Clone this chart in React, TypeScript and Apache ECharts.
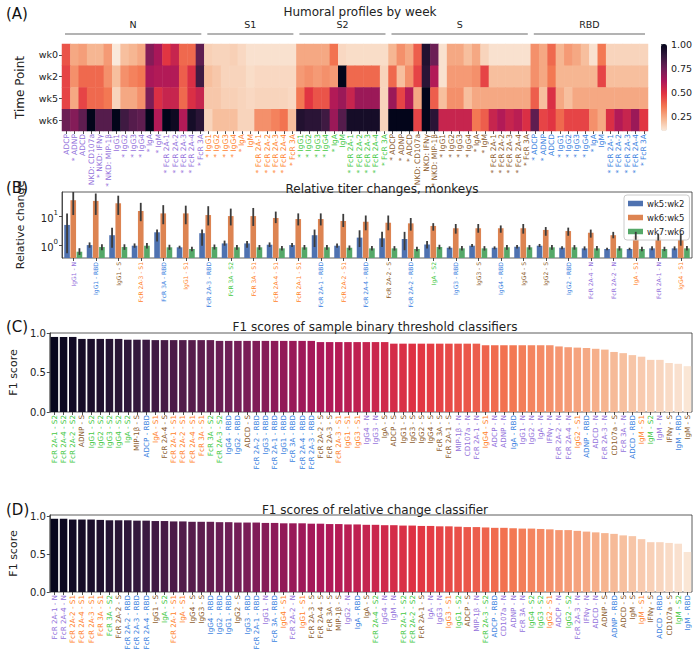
import React, { useEffect, useRef } from "react";
import * as echarts from "echarts";

const FONT = "DejaVu Sans";
const GROUP_COLORS: Record<string, string> = { N: "#9370db", S1: "#ff7f2a", S2: "#45c845", S: "#8b5a2b", RBD: "#3b7fe0" };
const ROCKET = ["#03051a", "#35193e", "#701f57", "#ad1759", "#e13342", "#f37651", "#f6b48f", "#faebdd"];

// ---------- Panel A ----------
const groupNames = ["N", "S1", "S2", "S", "RBD"];
const timePoints = ["wk0", "wk2", "wk5", "wk6"];
const featN = ["ADCP", "* ADNP", "ADCD", "NKD: CD107a", "* NKD: IFNγ", "* NKD: MIP-1β", "IgG1", "* IgG2", "* IgG3", "* IgG4", "* IgA", "* IgM", "* FcR 2A-1", "* FcR 2A-2", "* FcR 2A-3", "* FcR 2A-4", "* FcR 3A"];
const featS1 = ["* IgG1", "* IgG2", "* IgG3", "* IgG4", "* IgA", "IgM", "* FcR 2A-1", "* FcR 2A-2", "* FcR 2A-3", "* FcR 2A-4", "* FcR 3A"];
const featS2 = ["* IgG1", "* IgG2", "* IgG3", "* IgG4", "* IgA", "IgM", "* FcR 2A-1", "* FcR 2A-2", "* FcR 2A-3", "* FcR 2A-4", "* FcR 3A"];
const featS = ["* ADCP", "* ADNP", "* ADCD", "NKD: CD107a", "NKD: IFNγ", "* NKD: MIP-1β", "* IgG1", "* IgG2", "* IgG3", "* IgG4", "* IgA", "* IgM", "* FcR 2A-1", "* FcR 2A-2", "* FcR 2A-3", "* FcR 2A-4", "* FcR 3A"];
const featRBD = ["* ADCP", "* ADNP", "ADCD", "* IgG1", "* IgG2", "* IgG3", "* IgG4", "* IgA", "IgM", "* FcR 2A-1", "* FcR 2A-2", "* FcR 2A-3", "* FcR 2A-4", "* FcR 3A"];
const featGroups = [featN, featS1, featS2, featS, featRBD];

const wk0Values = [
  0.42, 0.25, 0.27, 0.22, 0.22, 0.28, 0.1, 0.2, 0.22, 0.25, 0.7, 0.62, 0.48, 0.55, 0.38, 0.38, 0.78,
  0.16, 0.15, 0.15, 0.16, 0.14, 0.12, 0.12, 0.12, 0.12, 0.12, 0.12,
  0.25, 0.25, 0.25, 0.25, 0.36, 0.14, 0.13, 0.13, 0.13, 0.13, 0.13,
  0.22, 0.3, 0.25, 0.4, 0.92, 0.75, 0.12, 0.25, 0.25, 0.2, 0.25, 0.15, 0.12, 0.12, 0.12, 0.12, 0.12,
  0.3, 0.25, 0.38, 0.22, 0.28, 0.25, 0.2, 0.12, 0.35, 0.15, 0.15, 0.15, 0.15, 0.15,
];
const wk2Values = [
  0.45, 0.3, 0.38, 0.38, 0.38, 0.3, 0.2, 0.3, 0.33, 0.35, 0.62, 0.6, 0.6, 0.6, 0.4, 0.5, 0.85,
  0.2, 0.18, 0.15, 0.15, 0.15, 0.13, 0.14, 0.14, 0.14, 0.14, 0.14,
  0.28, 0.3, 0.28, 0.3, 0.28, 1.0, 0.38, 0.38, 0.38, 0.38, 0.15,
  0.38, 0.2, 0.3, 0.45, 0.9, 0.6, 0.12, 0.28, 0.28, 0.28, 0.3, 0.45, 0.2, 0.2, 0.2, 0.2, 0.2,
  0.3, 0.25, 0.35, 0.22, 0.22, 0.22, 0.22, 0.22, 0.45, 0.2, 0.2, 0.2, 0.2, 0.2,
];
const wk5Values = [
  0.45, 0.25, 0.45, 0.38, 0.38, 0.35, 0.15, 0.25, 0.25, 0.3, 0.72, 0.5, 0.55, 0.55, 0.38, 0.5, 0.55,
  0.18, 0.18, 0.16, 0.16, 0.15, 0.14, 0.15, 0.15, 0.15, 0.15, 0.14,
  0.35, 0.48, 0.42, 0.42, 0.6, 0.65, 0.55, 0.65, 0.65, 0.65, 0.15,
  0.65, 0.45, 0.6, 0.25, 1.0, 0.4, 0.2, 0.3, 0.3, 0.2, 0.25, 0.25, 0.25, 0.25, 0.25, 0.25, 0.25,
  0.4, 0.2, 0.5, 0.25, 0.2, 0.25, 0.25, 0.25, 0.25, 0.25, 0.25, 0.25, 0.25, 0.25,
];
const wk6Values = [
  0.75, 0.7, 0.78, 1.0, 0.8, 0.8, 1.0, 0.85, 0.8, 0.78, 1.0, 0.6, 1.0, 0.97, 0.6, 0.95, 0.9,
  0.15, 0.2, 0.2, 0.2, 0.15, 0.15, 0.3, 0.3, 0.33, 0.36, 0.2,
  0.92, 0.9, 0.9, 0.85, 0.65, 0.8, 0.95, 0.95, 0.95, 0.95, 0.15,
  1.0, 1.0, 1.0, 0.45, 1.0, 0.9, 0.55, 0.55, 0.55, 0.55, 0.35, 0.4, 0.55, 0.6, 0.55, 0.58, 0.5,
  0.78, 0.45, 0.48, 0.38, 0.45, 0.45, 0.45, 0.3, 0.25, 0.5, 0.6, 0.55, 0.65, 0.48,
];
const colorbarTicks = [0.25, 0.5, 0.75, 1.0];

// ---------- Panel B ----------
const bCategories = ["IgG1 - N", "IgG1 - RBD", "IgG1 - S", "FcR 2A-3 - S1", "FcR 3A - RBD", "IgG1 - S1", "FcR 2A-3 - RBD", "FcR 3A - S2", "FcR 3A - S1", "FcR 2A-4 - S1", "FcR 2A-1 - S1", "FcR 2A-1 - RBD", "FcR 2A-2 - S1", "FcR 2A-4 - RBD", "FcR 2A-2 - S", "FcR 2A-2 - RBD", "IgA - S2", "IgG3 - RBD", "IgG3 - S", "IgG4 - RBD", "IgG4 - S", "IgG2 - S", "IgG2 - RBD", "FcR 2A-4 - N", "FcR 2A-2 - N", "IgA - S1", "FcR 2A-1 - N", "IgG4 - S1"];
const bSeriesNames = ["wk5:wk2", "wk6:wk5", "wk7:wk6"];
const bWk5Wk2 = [5.2, 1.05, 2.3, 1.0, 2.9, 0.88, 2.7, 1.2, 1.2, 1.08, 1.05, 2.3, 1.0, 1.9, 1.8, 1.7, 1.1, 0.85, 1.0, 0.85, 0.92, 1.0, 0.85, 0.81, 0.77, 0.77, 0.81, 0.81];
const bWk5Wk2Low = [0.55, 0.85, 0.85, 0.85, 1.4, 0.8, 1.0, 1.0, 0.85, 0.9, 0.9, 0.9, 0.85, 0.9, 0.9, 0.7, 0.8, 0.75, 0.9, 0.75, 0.8, 0.9, 0.75, 0.7, 0.7, 0.7, 0.7, 0.7];
const bWk5Wk2High = [13, 1.3, 4.2, 1.2, 3.6, 1.0, 3.6, 1.5, 1.45, 1.3, 1.25, 3.6, 1.2, 3.4, 3.0, 3.0, 1.45, 0.95, 1.15, 0.95, 1.05, 1.15, 0.95, 0.95, 0.85, 0.85, 0.95, 0.95];
const bWk6Wk5 = [37, 35, 29, 15.7, 13, 13, 11.4, 10.5, 10.5, 9, 8.3, 8.3, 7.1, 6.7, 6.2, 5.9, 4.8, 4.0, 4.0, 4.0, 4.0, 3.5, 3.2, 2.8, 2.3, 2.15, 1.94, 1.57];
const bWk6Wk5Low = [11.4, 11.5, 11.5, 7, 5.5, 5.5, 5, 5, 4.8, 6, 5, 5, 4.4, 3.4, 3.4, 3.3, 3.3, 2.6, 2.8, 2.8, 2.6, 2.2, 2.2, 1.9, 1.8, 1.6, 1.5, 1.0];
const bWk6Wk5High = [75, 63, 53, 30, 25, 24, 23, 19, 20, 15, 13, 13, 12.5, 11, 11, 9, 6, 5.6, 5.6, 5, 5.6, 4.4, 4.2, 3.6, 3.0, 3.0, 2.6, 2.6];
const bWk7Wk6 = [0.62, 0.9, 0.9, 1.0, 0.88, 0.77, 0.9, 0.88, 0.88, 0.81, 0.88, 0.88, 0.85, 0.81, 0.81, 0.77, 0.9, 0.81, 0.81, 0.88, 0.88, 0.88, 0.88, 0.81, 0.81, 0.77, 0.77, 0.81];
const bWk7Wk6Low = [0.48, 0.7, 0.72, 0.8, 0.72, 0.65, 0.74, 0.73, 0.72, 0.68, 0.73, 0.73, 0.7, 0.68, 0.68, 0.65, 0.75, 0.68, 0.68, 0.73, 0.73, 0.73, 0.73, 0.68, 0.68, 0.65, 0.65, 0.68];
const bWk7Wk6High = [0.82, 1.12, 1.12, 1.25, 1.08, 0.92, 1.1, 1.06, 1.06, 0.97, 1.06, 1.06, 1.02, 0.97, 0.97, 0.92, 1.08, 0.97, 0.97, 1.05, 1.05, 1.05, 1.05, 0.97, 0.97, 0.92, 0.92, 0.97];
const bTickValues = [1, 10];

// ---------- Panel C ----------
const cCategories = ["FcR 2A-1 - S2", "FcR 2A-4 - S2", "FcR 2A-2 - S2", "ADNP - S", "IgG1 - S2", "IgG2 - S2", "IgG3 - S2", "IgG4 - S2", "IgA - S2", "MIP-1β - S", "ADCP - RBD", "IgA - S1", "FcR 2A-4 - S", "FcR 2A-1 - S1", "FcR 2A-2 - S1", "FcR 2A-4 - S1", "FcR 3A - S1", "FcR 3A - S2", "FcR 2A-3 - S2", "IgG4 - RBD", "IgG2 - RBD", "ADCD - S", "FcR 2A-2 - RBD", "IgG3 - RBD", "FcR 2A-1 - RBD", "IgG1 - RBD", "FcR 3A - RBD", "FcR 2A-4 - RBD", "FcR 2A-3 - RBD", "FcR 2A-2 - S", "FcR 2A-3 - S", "FcR 2A-3 - S1", "IgG1 - S1", "IgG3 - S1", "IgG4 - N", "IgG3 - N", "IgA - S", "ADCP - S", "IgG1 - S", "IgG3 - S", "IgG2 - S", "IgG4 - S", "FcR 3A - S", "FcR 2A-1 - S", "MIP-1β - N", "CD107a - N", "FcR 2A-1 - N", "IgG4 - S1", "ADCP - N", "ADNP - N", "IgA - RBD", "IgG1 - N", "IgG2 - N", "IgA - N", "IFNγ - N", "FcR 2A-2 - N", "FcR 2A-4 - N", "IgG2 - S1", "ADNP - RBD", "ADCD - N", "FcR 2A-3 - N", "CD107a - S", "FcR 3A - N", "ADCD - RBD", "IgM - S1", "IgM - S2", "IgM - N", "IFNγ - S", "IgM - RBD", "IgM - S"];
const cValues = [
  0.95, 0.95, 0.95,
  0.925, 0.925, 0.925, 0.925, 0.925,
  0.915, 0.915, 0.915,
  0.91, 0.91, 0.91, 0.91, 0.91, 0.91, 0.91,
  0.9, 0.9, 0.9, 0.9, 0.9, 0.9, 0.9, 0.9, 0.9, 0.9, 0.9,
  0.885, 0.885, 0.885, 0.885, 0.885, 0.885, 0.885, 0.885,
  0.865, 0.865, 0.865, 0.865, 0.865, 0.865, 0.865, 0.865, 0.865, 0.865,
  0.845, 0.845, 0.845, 0.845, 0.845, 0.845, 0.845, 0.845,
  0.83, 0.82, 0.815, 0.81, 0.8, 0.79,
  0.76, 0.745, 0.72, 0.7, 0.66, 0.66, 0.62, 0.61, 0.58,
];

// ---------- Panel D ----------
const dCategories = ["FcR 2A-1 - N", "FcR 2A-4 - N", "FcR 2A-2 - S1", "FcR 2A-4 - S1", "FcR 2A-3 - S1", "FcR 3A - S1", "FcR 3A - S2", "FcR 2A-2 - S", "FcR 2A-2 - RBD", "FcR 2A-3 - RBD", "FcR 2A-4 - RBD", "IgG1 - S", "IgA - S2", "FcR 2A-1 - S1", "IgA - S1", "IgG4 - S", "IgG3 - S", "IgG4 - RBD", "IgG2 - RBD", "IgG1 - RBD", "IgG2 - S", "IgG3 - RBD", "FcR 2A-1 - RBD", "IgG1 - N", "FcR 3A - RBD", "IgG4 - S1", "FcR 2A-2 - N", "IgG1 - S1", "FcR 2A-3 - S", "FcR 2A-4 - S", "FcR 3A - S", "MIP-1β - S", "IgG2 - N", "IgA - RBD", "IgA - S", "FcR 2A-4 - S2", "IgG4 - N", "IgM - N", "FcR 2A-1 - S2", "FcR 2A-2 - S2", "FcR 2A-1 - S", "IgA - N", "IgG3 - N", "IgG3 - S1", "IgG1 - S2", "ADCP - S", "MIP-1β - N", "FcR 2A-3 - S2", "ADCP - RBD", "CD107a - N", "ADNP - N", "FcR 3A - N", "IgG4 - S2", "IgG3 - S2", "IgG2 - S1", "ADCP - N", "IgG2 - S2", "FcR 2A-3 - N", "IFNγ - N", "ADCD - N", "ADNP - S", "ADNP - RBD", "ADCD - S", "IgM - S", "IgM - S1", "IFNγ - S", "ADCD - RBD", "CD107a - S", "IgM - S2", "IgM - RBD"];
const dValues = [
  0.97, 0.97, 0.96, 0.96, 0.96, 0.955, 0.95, 0.95, 0.95, 0.945,
  0.945, 0.94, 0.94, 0.935, 0.935, 0.93, 0.93, 0.93, 0.925, 0.925,
  0.92, 0.92, 0.92, 0.915, 0.915, 0.91, 0.91, 0.91, 0.905, 0.905,
  0.9, 0.9, 0.895, 0.895, 0.89, 0.89, 0.885, 0.885, 0.88, 0.88,
  0.875, 0.875, 0.87, 0.87, 0.865, 0.86, 0.86, 0.855, 0.85, 0.85,
  0.845, 0.84, 0.84, 0.835, 0.83, 0.82, 0.82, 0.81, 0.8, 0.79,
  0.78, 0.77, 0.75, 0.74, 0.7, 0.66, 0.66, 0.65, 0.64, 0.53,
];
const f1TickValues = [0, 0.5, 1.0];

const groupOf = (label: string) => label.split(" - ").pop() as string;
const labelColor = (labels: string[]) => (_v: any, i: number) => GROUP_COLORS[groupOf(labels[i])];

function buildOption() {
  const heatLabels: string[] = [];
  const heatColors: string[] = [];
  featGroups.forEach((g, gi) => g.forEach((f) => { heatLabels.push(f); heatColors.push(GROUP_COLORS[groupNames[gi]]); }));
  const rows = [wk0Values, wk2Values, wk5Values, wk6Values];
  const heatData: number[][] = [];
  rows.forEach((r, ri) => r.forEach((v, ci) => heatData.push([ci, ri, v])));

  const bVals = [bWk5Wk2, bWk6Wk5, bWk7Wk6];
  const bLow = [bWk5Wk2Low, bWk6Wk5Low, bWk7Wk6Low];
  const bHigh = [bWk5Wk2High, bWk6Wk5High, bWk7Wk6High];
  const bColors = ["#4f72b0", "#dd8452", "#55a868"];

  const axisText = { fontFamily: FONT, color: "#222" };
  const tickLine = { lineStyle: { color: "#222", width: 0.8 } };

  const titles = [
    { text: "(A)", left: 1, top: 1, textStyle: { fontSize: 15, fontWeight: "normal", fontFamily: FONT, color: "#111" } },
    { text: "Humoral profiles by week", left: 355, top: 1, textAlign: "center", textStyle: { fontSize: 12, fontWeight: "normal", fontFamily: FONT, color: "#222" } },
    { text: "(B)", left: 1, top: 175, textStyle: { fontSize: 15, fontWeight: "normal", fontFamily: FONT, color: "#111" } },
    { text: "Relative titer changes, monkeys", left: 377, top: 178, textAlign: "center", textStyle: { fontSize: 12, fontWeight: "normal", fontFamily: FONT, color: "#222" } },
    { text: "(C)", left: 1, top: 314, textStyle: { fontSize: 15, fontWeight: "normal", fontFamily: FONT, color: "#111" } },
    { text: "F1 scores of sample binary threshold classifiers", left: 370, top: 316, textAlign: "center", textStyle: { fontSize: 12, fontWeight: "normal", fontFamily: FONT, color: "#222" } },
    { text: "(D)", left: 1, top: 497, textStyle: { fontSize: 15, fontWeight: "normal", fontFamily: FONT, color: "#111" } },
    { text: "F1 scores of relative change classifier", left: 370, top: 499, textAlign: "center", textStyle: { fontSize: 12, fontWeight: "normal", fontFamily: FONT, color: "#222" } },
  ];

  const errSeries = bVals.map((_, h) => ({
    type: "custom",
    xAxisIndex: 2,
    yAxisIndex: 2,
    clip: true,
    silent: true,
    z: 5,
    data: bCategories.map((_c, i) => [i, bLow[h][i], bHigh[h][i]]),
    renderItem: (_params: any, api: any) => {
      const i = api.value(0);
      const lo = api.coord([i, api.value(1)]);
      const hi = api.coord([i, api.value(2)]);
      const band = api.size([1, 0])[0];
      const x = lo[0] + (h - 1) * band * 0.275;
      return { type: "line", shape: { x1: x, y1: lo[1], x2: x, y2: hi[1] }, style: { stroke: "#3c3c3c", lineWidth: 1.8 } };
    },
  }));

  return {
    animation: false,
    textStyle: { fontFamily: FONT },
    title: titles,
    grid: [
      { left: 62, top: 44, width: 586, height: 87 },
      { left: 661, top: 44, width: 6, height: 87 },
      { left: 62, top: 192, width: 630, height: 66, show: true, borderColor: "#333", borderWidth: 0.8 },
      { left: 48, top: 333, width: 644, height: 79, show: true, borderColor: "#333", borderWidth: 0.8 },
      { left: 48, top: 515, width: 644, height: 77, show: true, borderColor: "#333", borderWidth: 0.8 },
    ],
    xAxis: [
      {
        type: "category", gridIndex: 0, data: heatLabels,
        axisLine: { show: false }, axisTick: { show: true, length: 3, alignWithLabel: true, ...tickLine },
        axisLabel: { interval: 0, rotate: 90, fontSize: 7.5, margin: 3, fontFamily: FONT, color: (_v: any, i: number) => heatColors[i], formatter: (_v: any, i: number) => heatLabels[i] },
      },
      { type: "value", gridIndex: 1, show: false, min: 0, max: 1 },
      {
        type: "category", gridIndex: 2, data: bCategories,
        axisLine: { show: false }, axisTick: { show: true, length: 3, alignWithLabel: true, ...tickLine },
        axisLabel: { interval: 0, rotate: 90, fontSize: 6, margin: 4, fontFamily: FONT, color: labelColor(bCategories) },
      },
      {
        type: "category", gridIndex: 3, data: cCategories,
        axisLine: { show: false }, axisTick: { show: true, length: 3, alignWithLabel: true, ...tickLine },
        axisLabel: { interval: 0, rotate: 90, fontSize: 7.2, margin: 3, fontFamily: FONT, color: labelColor(cCategories) },
      },
      {
        type: "category", gridIndex: 4, data: dCategories,
        axisLine: { show: false }, axisTick: { show: true, length: 3, alignWithLabel: true, ...tickLine },
        axisLabel: { interval: 0, rotate: 90, fontSize: 7.2, margin: 3, fontFamily: FONT, color: labelColor(dCategories) },
      },
    ],
    yAxis: [
      {
        type: "category", gridIndex: 0, data: timePoints, inverse: true,
        name: "Time Point", nameLocation: "middle", nameGap: 36, nameTextStyle: { fontSize: 12, fontFamily: FONT, color: "#222" },
        axisLine: { show: false }, axisTick: { show: true, length: 3, alignWithLabel: true, ...tickLine },
        axisLabel: { fontSize: 9.5, margin: 4, ...axisText },
      },
      {
        type: "value", gridIndex: 1, min: 0.096, max: 1.0, position: "right",
        axisLine: { show: false }, splitLine: { show: false },
        axisTick: { show: true, length: 3, customValues: colorbarTicks, ...tickLine },
        axisLabel: { show: true, customValues: colorbarTicks, fontSize: 9.5, margin: 4, formatter: (v: number) => v.toFixed(2), ...axisText },
      },
      {
        type: "log", logBase: 10, gridIndex: 2, min: 0.377, max: 71, startValue: 0.377,
        name: "Relative change", nameLocation: "middle", nameGap: 36, nameTextStyle: { fontSize: 11, fontFamily: FONT, color: "#222" },
        axisLine: { show: true, lineStyle: { color: "#333", width: 0.8 } }, splitLine: { show: false },
        axisTick: { show: true, length: 3, customValues: bTickValues, ...tickLine },
        axisLabel: {
          customValues: bTickValues, margin: 4,
          formatter: (v: number) => `{b|10}{s|${Math.round(Math.log10(v))}}`,
          rich: { b: { fontSize: 10, fontFamily: FONT, color: "#222", lineHeight: 14, verticalAlign: "bottom" }, s: { fontSize: 7, fontFamily: FONT, color: "#222", lineHeight: 14, verticalAlign: "top" } },
        },
      },
      {
        type: "value", gridIndex: 3, min: 0, max: 1.0,
        name: "F1 score", nameLocation: "middle", nameGap: 28, nameTextStyle: { fontSize: 11, fontFamily: FONT, color: "#222" },
        axisLine: { show: true, lineStyle: { color: "#333", width: 0.8 } }, splitLine: { show: false },
        axisTick: { show: true, length: 3, customValues: f1TickValues, ...tickLine },
        axisLabel: { customValues: f1TickValues, fontSize: 10, margin: 4, formatter: (v: number) => v.toFixed(1), ...axisText },
      },
      {
        type: "value", gridIndex: 4, min: 0, max: 1.02,
        name: "F1 score", nameLocation: "middle", nameGap: 28, nameTextStyle: { fontSize: 11, fontFamily: FONT, color: "#222" },
        axisLine: { show: true, lineStyle: { color: "#333", width: 0.8 } }, splitLine: { show: false },
        axisTick: { show: true, length: 3, customValues: f1TickValues, ...tickLine },
        axisLabel: { customValues: f1TickValues, fontSize: 10, margin: 4, formatter: (v: number) => v.toFixed(1), ...axisText },
      },
    ],
    visualMap: [
      {
        type: "continuous", seriesIndex: 0, dimension: 2, min: 0.096, max: 1.0, calculable: false, hoverLink: false,
        left: 661, top: 44, itemWidth: 6, itemHeight: 87, padding: 0, text: null, showLabel: false,
        inRange: { color: ROCKET.slice().reverse() },
      },
      { type: "continuous", show: false, seriesIndex: 4, dimension: 0, min: -1, max: cCategories.length, inRange: { color: ROCKET } },
      { type: "continuous", show: false, seriesIndex: 5, dimension: 0, min: -1, max: dCategories.length, inRange: { color: ROCKET } },
    ],
    legend: {
      data: bSeriesNames, orient: "vertical", left: 624, top: 195,
      itemWidth: 15, itemHeight: 5.5, itemGap: 5, icon: "rect",
      padding: [4, 5, 4, 4], borderColor: "#ccc", borderWidth: 1, borderRadius: 3, backgroundColor: "rgba(255,255,255,0.85)",
      textStyle: { fontSize: 8.5, fontFamily: FONT, color: "#222", padding: [0, 0, 0, -1] },
    },
    series: [
      { type: "heatmap", xAxisIndex: 0, yAxisIndex: 0, data: heatData, itemStyle: { borderWidth: 0 }, emphasis: { disabled: true } },
      ...bVals.map((vals, h) => ({
        type: "bar", name: bSeriesNames[h], xAxisIndex: 2, yAxisIndex: 2, data: vals,
        barCategoryGap: "20%", barGap: "10%", itemStyle: { color: bColors[h] },
      })),
      { type: "bar", xAxisIndex: 3, yAxisIndex: 3, data: cValues.map((v, i) => [i, v]), barCategoryGap: "18%" },
      { type: "bar", xAxisIndex: 4, yAxisIndex: 4, data: dValues.map((v, i) => [i, v]), barCategoryGap: "18%" },
      ...errSeries,
    ],
  };
}

export default function App() {
  const ref = useRef<HTMLDivElement>(null);
  useEffect(() => {
    const chart = echarts.init(ref.current as HTMLDivElement, null, { renderer: "svg" });
    chart.setOption(buildOption() as any);
    const sizes = featGroups.map((g) => g.length);
    const px = (i: number) => chart.convertToPixel({ xAxisIndex: 0 } as any, i) as number;
    const half = (px(1) - px(0)) / 2;
    const graphics: any[] = [];
    let start = 0;
    sizes.forEach((n, gi) => {
      const x0 = px(start) - half + 3;
      const x1 = px(start + n - 1) + half - 3;
      graphics.push({ type: "line", shape: { x1: x0, y1: 34, x2: x1, y2: 34 }, style: { stroke: "#9a9a9a", lineWidth: 1.6 } });
      graphics.push({ type: "text", x: (x0 + x1) / 2, y: 24, style: { text: groupNames[gi], textAlign: "center", textVerticalAlign: "middle", fontSize: 9.5, fontFamily: FONT, fill: "#222" } });
      start += n;
    });
    chart.setOption({ graphic: graphics });
    return () => chart.dispose();
  }, []);
  return <div ref={ref} style={{ position: "absolute", left: 0, top: 0, width: 696, height: 657 }} />;
}
